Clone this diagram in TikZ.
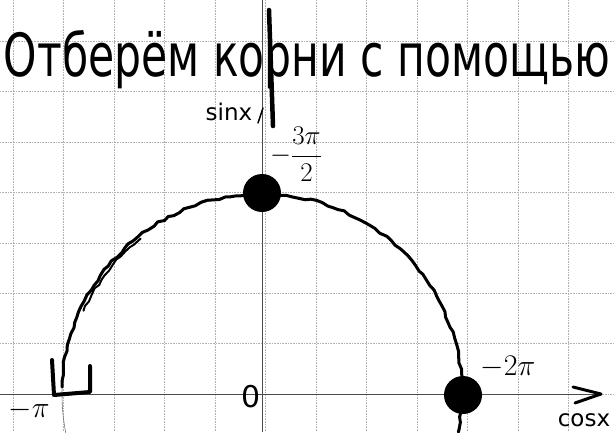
\RequirePackage{fix-cm}
\documentclass[tikz,border=0pt]{standalone}
\usepackage{fontspec}
\setmainfont{DejaVu Sans}
\usetikzlibrary{positioning,decorations.pathmorphing}

\begin{document}
\begin{tikzpicture}[
    x=1pt,y=-1pt,
    gridline/.style={black!30,densely dotted,line width=0.6pt},
    axis/.style={black!70,line width=0.8pt},
    guide/.style={black!55,line width=0.6pt},
    pen/.style={black,line width=3pt,line cap=round,line join=round},
    wobbly/.style={pen,decorate,decoration={random steps,segment length=6pt,amplitude=1.2pt}},
    dot/.style={circle,fill=black,inner sep=0pt,minimum size=38pt},
    hand/.style={inner sep=0pt,font=\fontsize{23}{23}\selectfont},
    ticklabel/.style={inner sep=0pt,font=\fontsize{30}{30}\selectfont}
]
\clip (0,0) rectangle (614,432);
\fill[white] (0,0) rectangle (614,432);
\pgfmathsetseed{7}

% сетка
\foreach \i in {0,...,11} \draw[gridline] (13+50.5*\i,0) -- (13+50.5*\i,432);
\foreach \j in {0,...,7} \draw[gridline] (0,394-50.4*\j) -- (614,394-50.4*\j);

% оси и окружность
\coordinate (O) at (262,394);
\coordinate (xend) at (601,394);
\coordinate (ytop) at (262,0);
\coordinate (ybot) at (262,432);
\draw[axis] (0,394) -- (xend);
\draw[axis] (ytop) -- (ybot);
\draw[guide] (O) circle[radius=200];
\draw[pen] (573,387) -- (xend) -- (575,403);
\draw[black,line width=4.5pt,line cap=round] (269,10) -- (273,126);
\draw[black,line width=1.5pt,line cap=round] (258,123) -- (263,108);

% дуга
\draw[wobbly] (O) ++(182:200) arc[start angle=182,end angle=371,radius=200];
\draw[wobbly,line width=2pt] (O) ++(205:197) arc[start angle=205,end angle=232,radius=197];

% точки
\node[dot] (top) at (262,193) {};
\node[dot] (right) at (463,395) {};

% скобка
\draw[pen,line width=4pt] (52,360) -- (54,395) -- (90,392) -- (90,366);

% подписи
\node[inner sep=0pt,anchor=base,font=\fontsize{42.5}{42.5}\selectfont] (head) at (307,76) {\scalebox{1}[1.4]{Отберём корни с помощью}};
\node[hand] (sinx) at (229,112) {sinx};
\node[hand] (cosx) at (584,420) {cosx};
\node[ticklabel,font=\fontsize{27}{27}\selectfont] (t3) at (296,154) {$\displaystyle -\frac{3\pi}{2}$};
\node[ticklabel] (t2) at (508,367) {$-2\pi$};
\node[ticklabel] (t1) at (29,410) {$-\pi$};
\node[ticklabel] (zero) at (251,397) {0};

\end{tikzpicture}
\end{document}
